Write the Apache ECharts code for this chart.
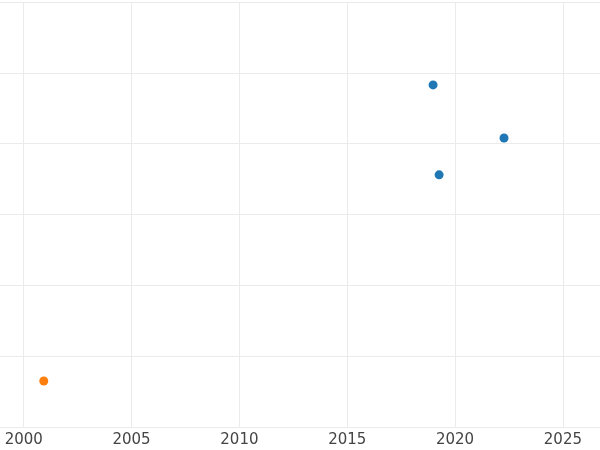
<!DOCTYPE html>
<html><head><meta charset="utf-8">
<script src="https://cdn.jsdelivr.net/npm/echarts@6/dist/echarts.min.js"></script>
<style>body{margin:0}#main{width:600px;height:450px}</style></head>
<body><div id="main"></div>
<script>
// 数据
var blueYears = [2018.98, 2022.27, 2019.26];
var blueValues = [4.83, 4.08, 3.56];
var orangeYears = [2000.93];
var orangeValues = [0.65];
var xTicks = [2000, 2005, 2010, 2015, 2020, 2025];

var myChart = echarts.init(document.getElementById('main'));
var option = {
  grid: { left: 0, right: 0, top: 2, bottom: 23 },
  xAxis: {
    type: 'value', min: 1998.9, max: 2026.72,
    axisLine: { show: false },
    axisTick: { show: false, customValues: xTicks },
    axisLabel: { customValues: xTicks, formatter: function (v) { return String(v); },
      color: '#444', fontSize: 15, fontFamily: 'DejaVu Sans', margin: 6 },
    splitLine: { lineStyle: { color: '#ebebeb', width: 1 } }
  },
  yAxis: {
    type: 'value', min: 0, max: 6, interval: 1,
    axisLine: { show: false }, axisTick: { show: false }, axisLabel: { show: false },
    splitLine: { lineStyle: { color: '#ebebeb', width: 1 } }
  },
  series: [{
    type: 'scatter', symbolSize: 9, itemStyle: { color: '#1f77b4', opacity: 1 },
    data: blueYears.map(function (x, i) { return [x, blueValues[i]]; })
  }, {
    type: 'scatter', symbolSize: 9, itemStyle: { color: '#ff7f0e', opacity: 1 },
    data: orangeYears.map(function (x, i) { return [x, orangeValues[i]]; })
  }]
};
myChart.setOption(option);
</script></body></html>
